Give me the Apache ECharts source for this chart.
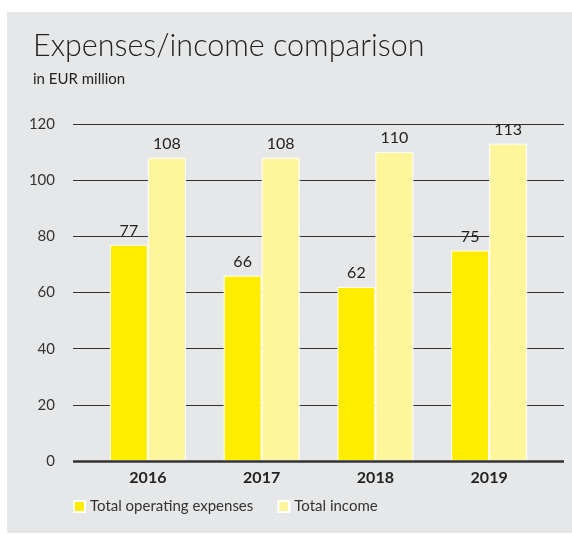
<!DOCTYPE html>
<html><head><meta charset="utf-8">
<script src="https://cdn.jsdelivr.net/npm/echarts@6/dist/echarts.min.js"></script>
<style>html,body{margin:0;padding:0;background:#fff;}#c{width:572px;height:535px;}</style>
</head><body><div id="c"></div>
<script>
const categories = ['2016','2017','2018','2019'];
const expenses = [77, 66, 62, 75];
const income = [108, 108, 110, 113];
const seriesNames = ['Total operating expenses', 'Total income'];
const yTicks = [0, 20, 40, 60, 80, 100, 120];

const chart = echarts.init(document.getElementById('c'));
const font = 'Lato, "Noto Sans", sans-serif';
chart.setOption({
  backgroundColor: '#ffffff',
  graphic: [{type:'rect', shape:{x:7, y:12, width:565, height:521}, style:{fill:'#e6e7e8'}, z:-10}],
  title: [
    {text:'Expenses/income comparison', left:28, top:26, textStyle:{fontFamily:font, fontSize:30.5, fontWeight:300, color:'#222'}},
    {text:'in EUR million', left:28, top:67, textStyle:{fontFamily:font, fontSize:15, fontWeight:'normal', color:'#222'}}
  ],
  legend: {
    bottom: 16, left: 68, itemWidth: 11, itemHeight: 11, itemGap: 24,
    icon: 'rect',
    textStyle:{fontFamily:font, fontSize:15, color:'#333'},
    data: seriesNames
  },
  grid: [
    {left:73, right:8, top:124, bottom:74},
    {left:91, right:26, top:124, bottom:74}
  ],
  xAxis: [
    {gridIndex:0, type:'category', data:categories, show:false},
    {gridIndex:1, type:'category', data:categories,
     axisLine:{show:false}, axisTick:{show:false},
     axisLabel:{fontFamily:font, fontSize:16, fontWeight:'bold', color:'#222', margin:9}}
  ],
  yAxis: [
    {gridIndex:0, type:'value', min:0, max:120, interval:20,
     axisLine:{show:false}, axisTick:{show:false},
     axisLabel:{fontFamily:font, fontSize:15, color:'#333', margin:18},
     splitLine:{lineStyle:{color:'#333', width:1}}},
    {gridIndex:1, type:'value', min:0, max:120, interval:20, show:false, splitLine:{show:false}}
  ],
  series: [
    {name:seriesNames[0], type:'bar', xAxisIndex:1, yAxisIndex:1, data:expenses, barWidth:38, barGap:'0%',
     itemStyle:{color:'#ffed00', borderColor:'#ffffff', borderWidth:1},
     label:{show:true, position:'top', distance:6, fontFamily:font, fontSize:16, color:'#222'}},
    {name:seriesNames[1], type:'bar', xAxisIndex:1, yAxisIndex:1, data:income, barWidth:38, barGap:'0%',
     itemStyle:{color:'#fff59b', borderColor:'#ffffff', borderWidth:1},
     label:{show:true, position:'top', distance:6, fontFamily:font, fontSize:16, color:'#222'}},
    {type:'line', xAxisIndex:0, yAxisIndex:0, data:[], silent:true,
     markLine:{symbol:'none', silent:true, label:{show:false}, lineStyle:{color:'#333', width:2.5, type:'solid'}, data:[{yAxis:0}]}}
  ]
});
</script></body></html>
